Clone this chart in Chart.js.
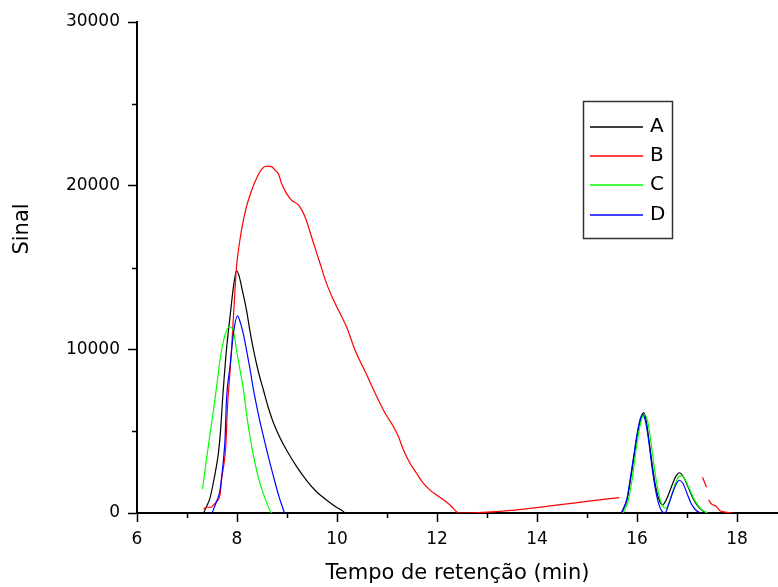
<!DOCTYPE html>
<html>
<head>
<meta charset="utf-8">
<script src="https://cdn.jsdelivr.net/npm/chart.js@4"></script>
<style>
  body { margin: 0; background: #fff; }
  #wrap { width: 778px; height: 587px; position: relative; }
</style>
</head>
<body>
<div id="wrap"><canvas id="myChart"></canvas></div>
<script>
// retention time (min) and signal for each sample; null = no data (gap)
const aTime = [7.33, 7.39, 7.46, 7.53, 7.59, 7.63, 7.67, 7.72, 7.79, 7.86, 7.93, 7.99, 8.04, 8.10, 8.19, 8.26, 8.33, 8.43, 8.53, 8.63, 8.73, 8.86, 8.99, 9.19, 9.39, 9.59, 9.79, 9.99, 10.13, 10.15,
  12.0,
  15.69, 15.80, 15.86, 15.93, 16.00, 16.07, 16.13, 16.18, 16.23, 16.30, 16.36, 16.43, 16.51, 16.60, 16.70, 16.78, 16.85, 16.93, 17.02, 17.12, 17.22, 17.32, 17.39];
const aSignal = [0, 390, 910, 1900, 2900, 3700, 5000, 7300, 10000, 11980, 13830, 14800, 14500, 13700, 12400, 11100, 9960, 8600, 7500, 6400, 5500, 4600, 3850, 2850, 2000, 1300, 800, 350, 80, 0,
  null,
  0, 800, 1830, 3240, 4660, 5680, 6130, 5700, 4660, 3050, 1830, 920, 490, 900, 1700, 2250, 2460, 2200, 1600, 900, 400, 120, 0];

const bTime = [7.33, 7.39, 7.48, 7.53, 7.59, 7.66, 7.69, 7.75, 7.78, 7.81, 7.85, 7.89, 7.96, 7.99, 8.04, 8.09, 8.19, 8.28, 8.36, 8.49, 8.59, 8.69, 8.76, 8.83, 8.89, 8.99, 9.09, 9.23, 9.36, 9.49, 9.66, 9.79, 9.93, 10.06, 10.19, 10.36, 10.60, 10.86, 10.96, 11.13, 11.23, 11.33, 11.46, 11.59, 11.73, 11.86, 11.99, 12.13, 12.26, 12.39, 12.45, 12.50, 15.65,
  16.5,
  17.31, 17.39,
  17.41,
  17.43, 17.49, 17.59, 17.66, 17.80, 17.93];
const bSignal = [240, 350, 350, 490, 690, 1100, 2020, 3240, 4280, 6500, 8200, 9960, 13630, 15050, 16300, 17290, 18720, 19600, 20240, 21000, 21200, 21160, 20950, 20710, 20150, 19530, 19120, 18820, 18100, 16880, 15260, 14030, 13010, 12200, 11380, 9960, 8400, 6700, 6110, 5270, 4660, 3850, 3040, 2430, 1810, 1400, 1100, 800, 490, 80, 0, 0, 935,
  null,
  2180, 1570,
  null,
  800, 550, 390, 140, 40, 0];

const cTime = [7.31, 7.39, 7.46, 7.53, 7.60, 7.66, 7.76, 7.85, 7.93, 7.99, 8.06, 8.13, 8.19, 8.26, 8.36, 8.46, 8.56, 8.67, 8.69,
  12.0,
  15.72, 15.82, 15.90, 15.97, 16.04, 16.10, 16.16, 16.22, 16.28, 16.35, 16.42, 16.50, 16.58, 16.66, 16.75, 16.82, 16.89, 16.97, 17.06, 17.15, 17.25, 17.34, 17.41];
const cSignal = [1450, 3300, 4800, 6290, 7900, 9350, 10880, 11380, 11080, 9960, 8740, 7520, 6090, 4660, 3040, 1810, 910, 80, 0,
  null,
  0, 700, 2000, 3600, 5000, 5800, 6000, 5500, 4300, 2700, 1400, 500, 290, 800, 1650, 2150, 2280, 2000, 1400, 800, 350, 100, 0];

const dTime = [7.50, 7.59, 7.66, 7.73, 7.76, 7.79, 7.86, 7.93, 8.01, 8.07, 8.13, 8.19, 8.26, 8.33, 8.43, 8.53, 8.63, 8.73, 8.84, 8.95,
  12.0,
  15.69, 15.80, 15.86, 15.93, 16.00, 16.06, 16.11, 16.17, 16.23, 16.30, 16.36, 16.43, 16.50, 16.56, 16.63, 16.72, 16.79, 16.85, 16.92, 17.00, 17.08, 17.17, 17.26];
const dSignal = [0, 690, 1400, 3300, 4460, 6900, 8940, 11000, 12040, 11600, 10900, 9960, 8800, 7520, 6000, 4660, 3400, 2220, 1000, 0,
  null,
  0, 900, 2000, 3400, 4800, 5700, 6050, 5600, 4500, 2800, 1600, 600, 100, 0, 500, 1300, 1800, 2000, 1800, 1200, 600, 200, 0];

const seriesLabels = ['A', 'B', 'C', 'D'];
const seriesColors = ['#000000', '#ff0000', '#00ff00', '#0000ff'];

const xTickLabels = [6, 8, 10, 12, 14, 16, 18];
const xMinorTicks = [7, 9, 11, 13, 15, 17];
const yTickLabels = [0, 10000, 20000, 30000];
const yMinorTicks = [5000, 15000, 25000];

function pts(xs, ys) {
  return xs.map((x, i) => ({ x: x, y: ys[i] }));
}

const FONT = 'DejaVu Sans';

// minor ticks, y title and legend box
const extras = {
  id: 'extras',
  afterDraw(chart) {
    const c = chart.ctx;
    const xs = chart.scales.x, ys = chart.scales.y;
    const area = chart.chartArea;
    c.save();
    c.strokeStyle = '#000';
    c.lineWidth = 1.5;
    xMinorTicks.forEach(v => {
      const p = Math.round(xs.getPixelForValue(v)) + 0.5;
      c.beginPath(); c.moveTo(p, area.bottom); c.lineTo(p, area.bottom + 5); c.stroke();
    });
    yMinorTicks.forEach(v => {
      const p = Math.round(ys.getPixelForValue(v)) + 0.5;
      c.beginPath(); c.moveTo(area.left - 5, p); c.lineTo(area.left, p); c.stroke();
    });

    // y axis title
    c.fillStyle = '#000';
    c.font = '21px "' + FONT + '"';
    c.textAlign = 'center';
    c.textBaseline = 'middle';
    c.translate(23, 229);
    c.rotate(-Math.PI / 2);
    c.fillText('Sinal', 0, 0);
    c.restore();

    // legend
    c.save();
    c.strokeStyle = '#333';
    c.lineWidth = 1.5;
    c.strokeRect(583.5, 101.5, 89, 137);
    c.font = '20px "' + FONT + '"';
    c.textBaseline = 'middle';
    c.textAlign = 'left';
    seriesLabels.forEach((label, i) => {
      const y = Math.round(127 + i * 29.2);
      c.strokeStyle = seriesColors[i];
      c.lineWidth = 1.4;
      c.beginPath(); c.moveTo(590, y); c.lineTo(643, y); c.stroke();
      c.fillStyle = '#000';
      c.fillText(label, 650, y);
    });
    c.restore();
  }
};

const ctx = document.getElementById('myChart');
new Chart(ctx, {
  type: 'line',
  data: {
    datasets: [
      { label: seriesLabels[0], data: pts(aTime, aSignal), borderColor: seriesColors[0], order: 4 },
      { label: seriesLabels[1], data: pts(bTime, bSignal), borderColor: seriesColors[1], order: 3 },
      { label: seriesLabels[2], data: pts(cTime, cSignal), borderColor: seriesColors[2], order: 2 },
      { label: seriesLabels[3], data: pts(dTime, dSignal), borderColor: seriesColors[3], order: 1 }
    ]
  },
  options: {
    responsive: true,
    maintainAspectRatio: false,
    animation: false,
    layout: { padding: { top: 22, right: 0, left: 0, bottom: 0 } },
    elements: {
      line: { borderWidth: 1.2, fill: false, cubicInterpolationMode: 'monotone' },
      point: { radius: 0, hoverRadius: 0 }
    },
    spanGaps: false,
    plugins: {
      legend: { display: false },
      tooltip: { enabled: false }
    },
    scales: {
      x: {
        type: 'linear',
        min: 6,
        max: 18.82,
        afterFit(scale) { scale.height = 74; },
        border: { display: true, color: '#000', width: 2 },
        grid: {
          drawOnChartArea: false,
          tickLength: 9,
          tickWidth: 1.5,
          tickColor: c => (c.tick && xTickLabels.includes(c.tick.value)) ? '#000' : 'rgba(0,0,0,0)'
        },
        ticks: {
          stepSize: 1,
          autoSkip: false,
          includeBounds: false,
          maxRotation: 0,
          padding: 7,
          color: '#000',
          font: { family: FONT, size: 17 },
          callback: v => xTickLabels.includes(v) ? String(v) : ''
        },
        title: {
          display: true,
          text: 'Tempo de retenção (min)',
          color: '#000',
          font: { family: FONT, size: 21 },
          padding: { top: 0, bottom: 1 }
        }
      },
      y: {
        min: 0,
        max: 30000,
        afterFit(scale) { scale.width = 137; },
        border: { display: true, color: '#000', width: 2 },
        grid: {
          drawOnChartArea: false,
          tickLength: 9,
          tickWidth: 1.5,
          tickColor: c => (c.tick && yTickLabels.includes(c.tick.value)) ? '#000' : 'rgba(0,0,0,0)'
        },
        ticks: {
          stepSize: 5000,
          autoSkip: false,
          padding: 8,
          color: '#000',
          font: { family: FONT, size: 17 },
          callback: v => yTickLabels.includes(v) ? String(v) : ''
        }
      }
    }
  },
  plugins: [extras]
});
</script>
</body>
</html>
